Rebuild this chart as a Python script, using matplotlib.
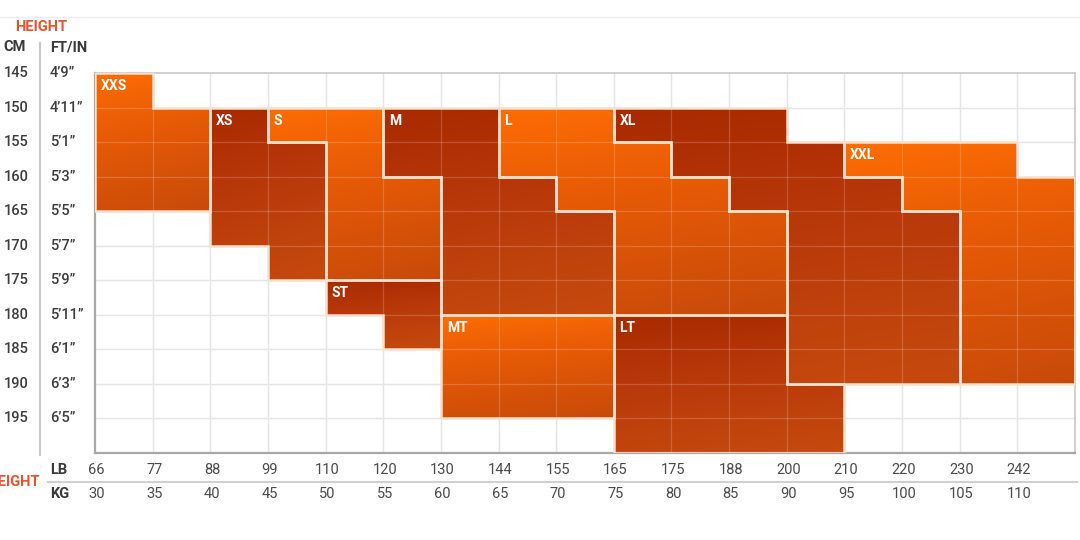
import numpy as np
import matplotlib.pyplot as plt
from matplotlib.patches import Polygon
from matplotlib.colors import LinearSegmentedColormap
from matplotlib.transforms import blended_transform_factory

plt.rcParams['font.family'] = ['Roboto', 'DejaVu Sans']

# axis labels
cm_labels = ["145", "150", "155", "160", "165", "170", "175", "180", "185", "190", "195"]
ftin_labels = ["4\u20199\u201d", "4\u201911\u201d", "5\u20191\u201d", "5\u20193\u201d", "5\u20195\u201d",
               "5\u20197\u201d", "5\u20199\u201d", "5\u201911\u201d", "6\u20191\u201d", "6\u20193\u201d",
               "6\u20195\u201d"]
lb_labels = ["66", "77", "88", "99", "110", "120", "130", "144", "155", "165",
             "175", "188", "200", "210", "220", "230", "242"]
kg_labels = ["30", "35", "40", "45", "50", "55", "60", "65", "70", "75",
             "80", "85", "90", "95", "100", "105", "110"]

# size regions: (weight column, first height row, last height row)
xxs_cells = [(0, 0, 3), (1, 1, 3)]
xs_cells = [(2, 1, 4), (3, 2, 5)]
s_cells = [(3, 1, 1), (4, 1, 5), (5, 3, 5)]
m_cells = [(5, 1, 2), (6, 1, 6), (7, 3, 6), (8, 4, 6)]
l_cells = [(7, 1, 2), (8, 1, 3), (9, 2, 6), (10, 3, 6), (11, 4, 6)]
xl_cells = [(9, 1, 1), (10, 1, 2), (11, 1, 3), (12, 2, 8), (13, 3, 8), (14, 4, 8)]
xxl_cells = [(13, 2, 2), (14, 2, 3), (15, 2, 8), (16, 3, 8)]
st_cells = [(4, 6, 6), (5, 6, 7)]
mt_cells = [(6, 7, 9), (7, 7, 9), (8, 7, 9)]
lt_cells = [(9, 7, 10), (10, 7, 10), (11, 7, 10), (12, 9, 10)]

size_names = ["XXS", "XS", "S", "M", "L", "XL", "XXL", "ST", "MT", "LT"]
size_cells = [xxs_cells, xs_cells, s_cells, m_cells, l_cells, xl_cells,
              xxl_cells, st_cells, mt_cells, lt_cells]
size_tone = ["bright", "dark", "bright", "dark", "bright", "dark",
             "bright", "dark", "bright", "dark"]

bright_cmap = LinearSegmentedColormap.from_list("bright", ["#ff6e04", "#e65a06", "#c84a0a"])
dark_cmap = LinearSegmentedColormap.from_list("dark", ["#a82800", "#b8380a", "#c64a0e"])

ncols = len(lb_labels)
nrows = len(cm_labels)


def outline(spans):
    top = []
    for c, r0, r1 in spans:
        top += [(c, r0), (c + 1, r0)]
    bot = []
    for c, r0, r1 in reversed(spans):
        bot += [(c + 1, r1 + 1), (c, r1 + 1)]
    return top + bot


fig = plt.figure(figsize=(10.8, 5.4), dpi=100)
ax = fig.add_axes([95 / 1080, 1 - 453 / 540, 980 / 1080, 380 / 540])
ax.set_xlim(0, ncols)
ax.set_ylim(nrows, 0)
ax.set_xticks([])
ax.set_yticks([])

# background grid
for x in range(1, ncols):
    ax.axvline(x, color="#e0e0e0", lw=1, zorder=0)
for y in range(1, nrows):
    ax.axhline(y, color="#e0e0e0", lw=1, zorder=0)

# size regions with gradients
for name, spans, tone in zip(size_names, size_cells, size_tone):
    pts = outline(spans)
    xs = [p[0] for p in pts]
    ys = [p[1] for p in pts]
    x0, x1, y0, y1 = min(xs), max(xs), min(ys), max(ys)
    v = np.linspace(0, 1, 200)[:, None]
    h = np.linspace(0, 1, 200)[None, :]
    grad = np.clip(0.85 * v ** 0.8 + 0.15 * h, 0, 1)
    cmap = bright_cmap if tone == "bright" else dark_cmap
    im = ax.imshow(grad, cmap=cmap, vmin=0, vmax=1, extent=(x0, x1, y1, y0),
                   aspect="auto", interpolation="bilinear", zorder=1)
    poly = Polygon(pts, closed=True, facecolor="none", edgecolor="none")
    ax.add_patch(poly)
    im.set_clip_path(poly)
    c, r0, _ = spans[0]
    ax.text(c + 0.1, r0 + 0.38, name, color="white", fontsize=10,
            fontweight="bold", va="center", ha="left", zorder=5)

# faint cell lines over the coloured areas
for x in range(1, ncols):
    ax.axvline(x, color="white", lw=0.9, alpha=0.18, zorder=2)
for y in range(1, nrows):
    ax.axhline(y, color="white", lw=0.9, alpha=0.18, zorder=2)

# region borders
for spans in size_cells:
    ax.add_patch(Polygon(outline(spans), closed=True, facecolor="none",
                         edgecolor="#f8e0cc", lw=1.8, zorder=3))

ax.set_xlim(0, ncols)
ax.set_ylim(nrows, 0)
for side in ["left", "bottom"]:
    ax.spines[side].set_color("#a8a8a8")
    ax.spines[side].set_linewidth(1.6)
for side in ["top", "right"]:
    ax.spines[side].set_color("#c8c8c8")
    ax.spines[side].set_linewidth(1.2)

# height labels
tr_y = blended_transform_factory(fig.transFigure, ax.transData)
for i, (cm, ft) in enumerate(zip(cm_labels, ftin_labels)):
    fig.text(4 / 1080, i, cm, transform=tr_y, fontsize=10.5, color="#3c3c3c",
             fontweight="medium", ha="left", va="center")
    fig.text(50 / 1080, i, ft, transform=tr_y, fontsize=10.5, color="#3c3c3c",
             fontweight="medium", ha="left", va="center")

fig.text(15 / 1080, 1 - 27 / 540, "HEIGHT", fontsize=10.5, fontweight="bold",
         color="#ea522c", ha="left", va="center")
fig.text(3 / 1080, 1 - 47 / 540, "CM", fontsize=10.5, fontweight="bold",
         color="#3a3a3a", ha="left", va="center")
fig.text(50 / 1080, 1 - 47 / 540, "FT/IN", fontsize=10.5, fontweight="bold",
         color="#3a3a3a", ha="left", va="center")
fig.add_artist(plt.Line2D([40 / 1080, 40 / 1080], [1 - 43 / 540, 1 - 455 / 540],
                          color="#c8c8c8", lw=1.5))
fig.add_artist(plt.Line2D([0, 1], [1 - 17 / 540, 1 - 17 / 540], color="#ececec", lw=1))

# weight labels
tr_x = blended_transform_factory(ax.transData, fig.transFigure)
for i, (lb, kg) in enumerate(zip(lb_labels, kg_labels)):
    fig.text(i + 0.03, 1 - 470 / 540, lb, transform=tr_x, fontsize=10.5,
             color="#4a4a4a", ha="center", va="center")
    fig.text(i + 0.03, 1 - 494 / 540, kg, transform=tr_x, fontsize=10.5,
             color="#4a4a4a", ha="center", va="center")
fig.text(50 / 1080, 1 - 470 / 540, "LB", fontsize=10.5, fontweight="bold",
         color="#3a3a3a", ha="left", va="center")
fig.text(50 / 1080, 1 - 494 / 540, "KG", fontsize=10.5, fontweight="bold",
         color="#3a3a3a", ha="left", va="center")
# the reference crops the first letter of this label at the left edge
fig.text(40 / 1080, 1 - 482 / 540, "WEIGHT", fontsize=10.5, fontweight="bold",
         color="#ea522c", ha="right", va="center")
fig.add_artist(plt.Line2D([48 / 1080, 1077 / 1080], [1 - 482 / 540, 1 - 482 / 540],
                          color="#d0d0d0", lw=1.5))

fig.savefig("out.png", dpi=100, facecolor="white")
